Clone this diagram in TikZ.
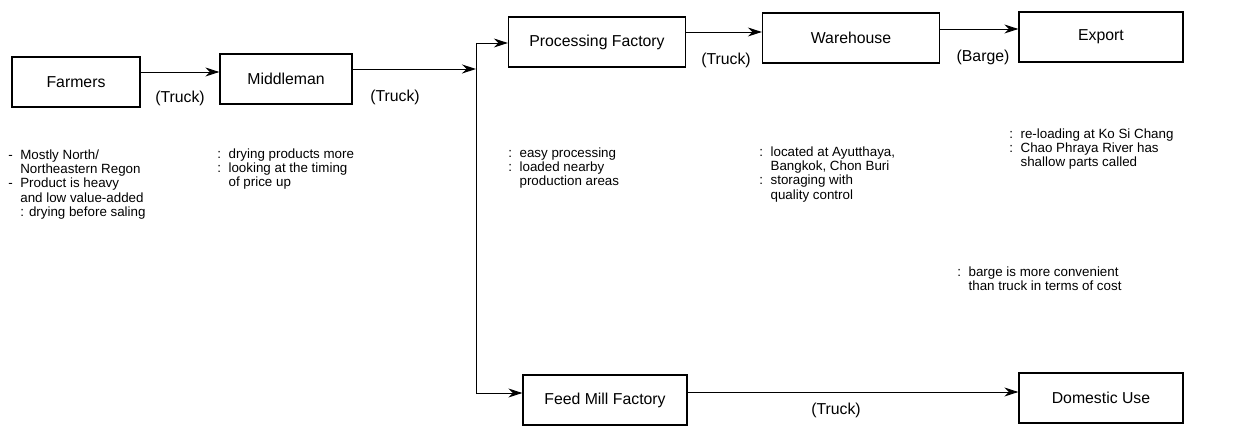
\documentclass[tikz,border=0pt]{standalone}
\usepackage{fontspec}
\setmainfont{Liberation Sans}
\usetikzlibrary{arrows.meta, positioning, calc}

\begin{document}
\begin{tikzpicture}[x=0.02cm, y=-0.02cm, >={Stealth[length=2.8mm, width=1.8mm]},
  line width=0.55pt,
  box/.style={draw, line width=0.75pt, minimum height=1cm, font=\fontsize{9}{10}\selectfont},
  via/.style={font=\fontsize{9}{10}\selectfont},
  note/.style={anchor=north west, inner sep=0pt, font=\fontsize{7.6}{8.1}\selectfont}]
  \useasboundingbox (0,0) rectangle (1234,428);
  % Boxes (pixel coordinates of the scan, y downwards)
  \node[box, minimum width=2.56cm] (farmers) at (76,82) {Farmers};
  \node[box, minimum width=2.64cm] (middleman) at (286,79) {Middleman};
  \node[box, minimum width=3.54cm] (proc) at (597,42) {Processing Factory};
  \node[box, minimum width=3.54cm] (ware) at (851,38) {Warehouse};
  \node[box, minimum width=3.28cm] (export) at (1101,37) {Export};
  \node[box, minimum width=3.28cm] (feed) at (605,400) {Feed Mill Factory};
  \node[box, minimum width=3.28cm] (domestic) at (1101,398) {Domestic Use};
  % Split of the flow after the middleman
  \coordinate (split) at (476,69);
  \coordinate (jtop) at (476,43);
  \coordinate (jbot) at (476,393);
  % Connectors
  \draw[->] (farmers.east |- 0,72) -- (middleman.west |- 0,72);
  \draw[->] (middleman.east |- split) -- (split);
  \draw (jtop) -- (jbot);
  \draw[->] (jtop) -- (proc.west |- jtop);
  \draw[->] (jbot) -- (feed.west |- jbot);
  \draw[->] (proc.east |- 0,32) -- (ware.west |- 0,32);
  \draw[->] (ware.east |- 0,29) -- (export.west |- 0,29);
  \draw[->] (feed.east |- 0,392) -- (domestic.west |- 0,392);
  % Means of transport
  \node[via] (via1) at (180,98) {(Truck)};
  \node[via] (via2) at (395,97) {(Truck)};
  \node[via] (via3) at (726,60) {(Truck)};
  \node[via] (via4) at (983,57) {(Barge)};
  \node[via] (via5) at (836,410) {(Truck)};
  % Notes
  \node[note] (farmnote) at (8,149) {\begin{tabular}{@{}l@{\ \ }l@{}}
    - & Mostly North/\\ & Northeastern Regon\\
    - & Product is heavy\\ & and low value-added\\ & : drying before saling\end{tabular}};
  \node[note] (midnote) at (217,148) {\begin{tabular}{@{}l@{\ \ }l@{}}
    : & drying products more\\ : & looking at the timing\\ & of price up\end{tabular}};
  \node[note] (procnote) at (508,147) {\begin{tabular}{@{}l@{\ \ }l@{}}
    : & easy processing\\ : & loaded nearby\\ & production areas\end{tabular}};
  \node[note] (warenote) at (759,146) {\begin{tabular}{@{}l@{\ \ }l@{}}
    : & located at Ayutthaya,\\ & Bangkok, Chon Buri\\
    : & storaging with\\ & quality control\end{tabular}};
  \node[note] (expnote) at (1009,128) {\begin{tabular}{@{}l@{\ \ }l@{}}
    : & re-loading at Ko Si Chang\\ : & Chao Phraya River has\\ & shallow parts called\end{tabular}};
  \node[note] (bargenote) at (957,266) {\begin{tabular}{@{}l@{\ \ }l@{}}
    : & barge is more convenient\\ & than truck in terms of cost\end{tabular}};
\end{tikzpicture}
\end{document}
